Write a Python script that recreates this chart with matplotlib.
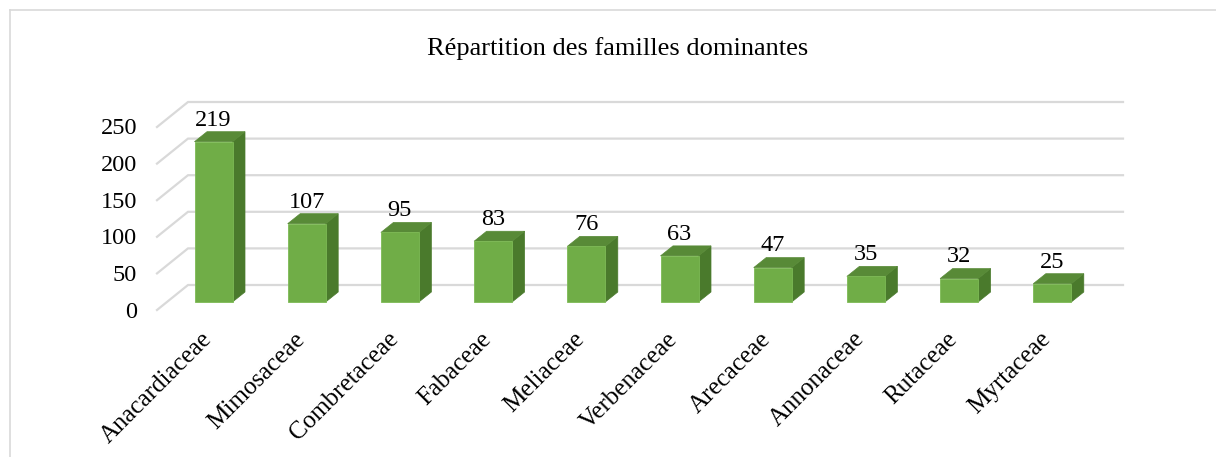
import matplotlib
matplotlib.use("Agg")
import matplotlib.pyplot as plt
from matplotlib.patches import Polygon, Rectangle
from matplotlib.lines import Line2D

categories = ["Anacardiaceae", "Mimosaceae", "Combretaceae", "Fabaceae", "Meliaceae",
              "Verbenaceae", "Arecaceae", "Annonaceae", "Rutaceae", "Myrtaceae"]
values = [219, 107, 95, 83, 76, 63, 47, 35, 32, 25]
yticks = [0, 50, 100, 150, 200, 250]
title = "Répartition des familles dominantes"

W, H = 1216, 457
PX_X = 93.2     # pixels per category
PX_Y = 0.732    # pixels per value unit
X0, Y0 = 213.5, 302.0   # pixel of category 0 centre, value 0 (bar plane)

plt.rcParams['font.family'] = ['Liberation Serif', 'DejaVu Serif']
fig = plt.figure(figsize=(W / 100, H / 100), dpi=100)
ax = fig.add_axes([0, 0, 1, 1])
ax.set_xlim((0 - X0) / PX_X, (W - X0) / PX_X)
ax.set_ylim((Y0 - H) / PX_Y, (Y0 - 0) / PX_Y)
ax.axis('off')

# wall geometry (data units)
wall_front_u = (157 - X0) / PX_X
wall_front_v = (Y0 - 310) / PX_Y
wall_du = 31 / PX_X
wall_dv = 25 / PX_Y
wall_right_u = (1123 - X0) / PX_X

grid_col = "#D9D9D9"
for k in yticks:
    fu, fv = wall_front_u, wall_front_v + k
    bu, bv = fu + wall_du, fv + wall_dv
    ax.plot([fu, bu, wall_right_u], [fv, bv, bv], color=grid_col, lw=1.6,
            solid_joinstyle='miter', zorder=1)
    ax.text(-0.82, k + wall_front_v - 7.5 / PX_Y, str(k), ha='right', va='baseline',
            fontsize=17.5, color='#000000')

# bars
bw = 38 / PX_X
bdu = 12.5 / PX_X
bdv = 10 / PX_Y
front_c = "#70AD47"
top_c = "#588A37"
side_c = "#4A7A2C"
for i, (cat, val) in enumerate(zip(categories, values)):
    l, r = i - bw / 2, i + bw / 2
    ax.add_patch(Polygon([(r, 0), (r + bdu, bdv), (r + bdu, val + bdv), (r, val)],
                         closed=True, facecolor=side_c, edgecolor=side_c, lw=0.5, zorder=3))
    ax.add_patch(Polygon([(l, val), (r, val), (r + bdu, val + bdv), (l + bdu, val + bdv)],
                         closed=True, facecolor=top_c, edgecolor=top_c, lw=0.5, zorder=3))
    ax.add_patch(Rectangle((l, 0), bw, val, facecolor=front_c, edgecolor="#7DBA55",
                           lw=0.6, zorder=4))
    ax.text(i, val + 22, str(val), ha='center', va='baseline', fontsize=17.5,
            color='#000000', zorder=5)
    ax.text(i - 1 / PX_X, (Y0 - 340) / PX_Y, cat, rotation=45, rotation_mode='anchor',
            ha='right', va='baseline', fontsize=18, color='#000000')

fig.text(618 / W, 1 - 55 / H, title, ha='center', va='baseline', fontsize=19,
         color='#000000')

# outer frame (cropped)
fig.add_artist(Line2D([10 / W, 10 / W], [0, 1 - 10 / H], transform=fig.transFigure,
                      color=grid_col, lw=1.2))
fig.add_artist(Line2D([10 / W, 1], [1 - 10 / H, 1 - 10 / H], transform=fig.transFigure,
                      color=grid_col, lw=1.2))

fig.savefig("out.png", dpi=100)
